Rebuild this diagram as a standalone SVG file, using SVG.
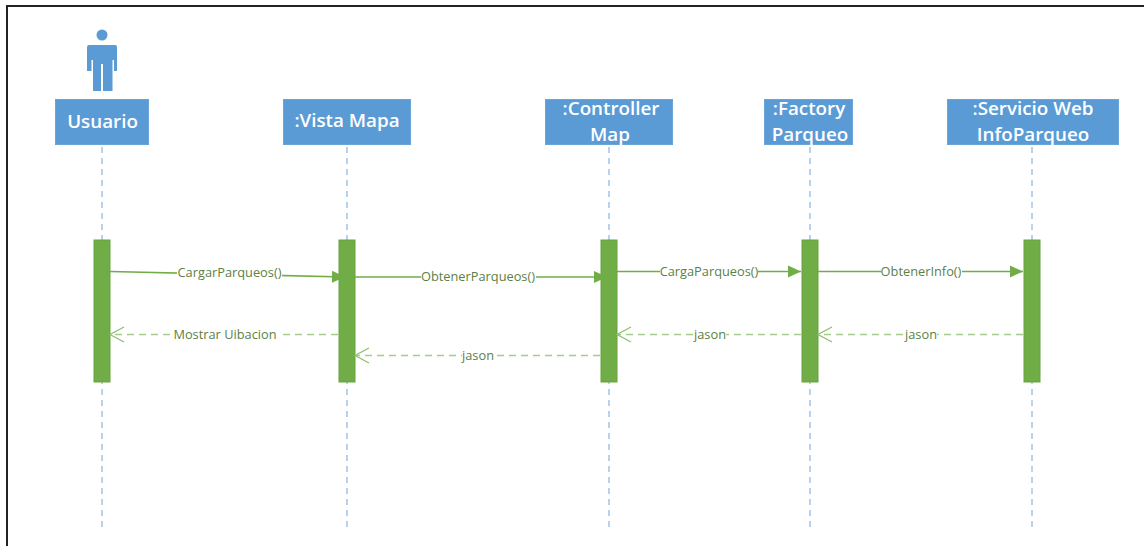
<svg xmlns="http://www.w3.org/2000/svg" width="1144" height="546" viewBox="0 0 1144 546">
<style>
.box{fill:#5b9bd5;stroke:#6aa5da;stroke-width:1}
.life{stroke:#a9c6e6;stroke-width:1.6;stroke-dasharray:6 5;fill:none}
.act{fill:#70ad47;stroke:#68a33f;stroke-width:1}
.t{font-family:"Open Sans","Noto Sans","Liberation Sans",sans-serif;font-size:18.8px;font-weight:600;fill:#fff;text-anchor:middle}
.l{font-family:"Open Sans","Noto Sans","Liberation Sans",sans-serif;font-size:12.8px;fill:#5c7f45;text-anchor:middle}
.m{stroke:#70ad47;stroke-width:1.6;fill:none}
.r{stroke:#a5cc8c;stroke-width:1.6;stroke-dasharray:7 5;fill:none}
.o{stroke:#8fbf70;stroke-width:1.3;fill:none}
.bg{fill:#fff}
</style>
<defs>
<marker id="solid" markerUnits="userSpaceOnUse" markerWidth="14" markerHeight="14" refX="13" refY="7" orient="auto"><path d="M0,1 L13,7 L0,13 Z" fill="#70ad47"/></marker>
</defs>
<rect x="0" y="0" width="1144" height="546" fill="#fff"/>
<path d="M1144,6 H7 V546" fill="none" stroke="#222" stroke-width="2"/>
<g id="lifelines">
<path class="life" d="M102,147 V530"/>
<path class="life" d="M347,147 V530"/>
<path class="life" d="M609,147 V530"/>
<path class="life" d="M810,147 V530"/>
<path class="life" d="M1032,147 V530"/>
</g>
<g id="actor-icon">
<circle cx="102" cy="35" r="5.5" fill="#5b9bd5"/>
<path d="M89,45 H115 Q117,45 117,47 V71 H114 V60 H112.500 V91 H103 V64 H101 V91 H93 V60 H91.500 V71 H87 V47 Q87,45 89,45 Z" fill="#5b9bd5"/>
</g>
<g id="usuario"><rect class="box" x="55.500" y="99.500" width="93" height="45"/><text class="t" x="102.500" y="128">Usuario</text></g>
<g id="vista-mapa"><rect class="box" x="283.500" y="99.500" width="127" height="45"/><text class="t" x="347" y="127">:Vista Mapa</text></g>
<g id="controller-map"><rect class="box" x="545.500" y="99.500" width="127" height="45"/><text class="t" x="611" y="115">:Controller</text><text class="t" x="610" y="141">Map</text></g>
<g id="factory-parqueo"><rect class="box" x="764.500" y="99.500" width="88" height="45"/><text class="t" x="809" y="115">:Factory</text><text class="t" x="810" y="141">Parqueo</text></g>
<g id="servicio-web"><rect class="box" x="947.500" y="99.500" width="171" height="45"/><text class="t" x="1033" y="115">:Servicio Web</text><text class="t" x="1033" y="141">InfoParqueo</text></g>
<g id="activations">
<rect class="act" x="94" y="240" width="16" height="142"/>
<rect class="act" x="339" y="240" width="16" height="142"/>
<rect class="act" x="601" y="240" width="16" height="142"/>
<rect class="act" x="802" y="240" width="16" height="142"/>
<rect class="act" x="1024" y="240" width="16" height="142"/>
</g>
<g id="connectors">
<path class="m" d="M110,271.500 L345,277" marker-end="url(#solid)"/>
<path class="m" d="M355,277 H607" marker-end="url(#solid)"/>
<path class="m" d="M617,271.500 H801" marker-end="url(#solid)"/>
<path class="m" d="M818,271.500 H1023" marker-end="url(#solid)"/>
<path class="r" d="M338,334.500 H111"/><path class="o" d="M124,327 L110,334.500 L124,342"/>
<path class="r" d="M600,355.500 H356"/><path class="o" d="M369,348 L355,355.500 L369,363"/>
<path class="r" d="M801,334.500 H618"/><path class="o" d="M631,327 L617,334.500 L631,342"/>
<path class="r" d="M1023,334.500 H819"/><path class="o" d="M832,327 L818,334.500 L832,342"/>
</g>
<g id="labels">
<rect class="bg" x="177" y="266" width="105" height="14"/><text class="l" x="229.500" y="277">CargarParqueos()</text>
<rect class="bg" x="421" y="270" width="115" height="14"/><text class="l" x="478" y="281">ObtenerParqueos()</text>
<rect class="bg" x="660" y="265" width="98" height="14"/><text class="l" x="709" y="276">CargaParqueos()</text>
<rect class="bg" x="881" y="265" width="81" height="14"/><text class="l" x="921" y="276">ObtenerInfo()</text>
<rect class="bg" x="173" y="328" width="105" height="14"/><text class="l" x="225" y="339">Mostrar Uibacion</text>
<rect class="bg" x="462" y="349" width="33" height="14"/><text class="l" x="478" y="360">jason</text>
<rect class="bg" x="694" y="328" width="32" height="14"/><text class="l" x="710" y="339">jason</text>
<rect class="bg" x="905" y="328" width="32" height="14"/><text class="l" x="921" y="339">jason</text>
</g>
</svg>
